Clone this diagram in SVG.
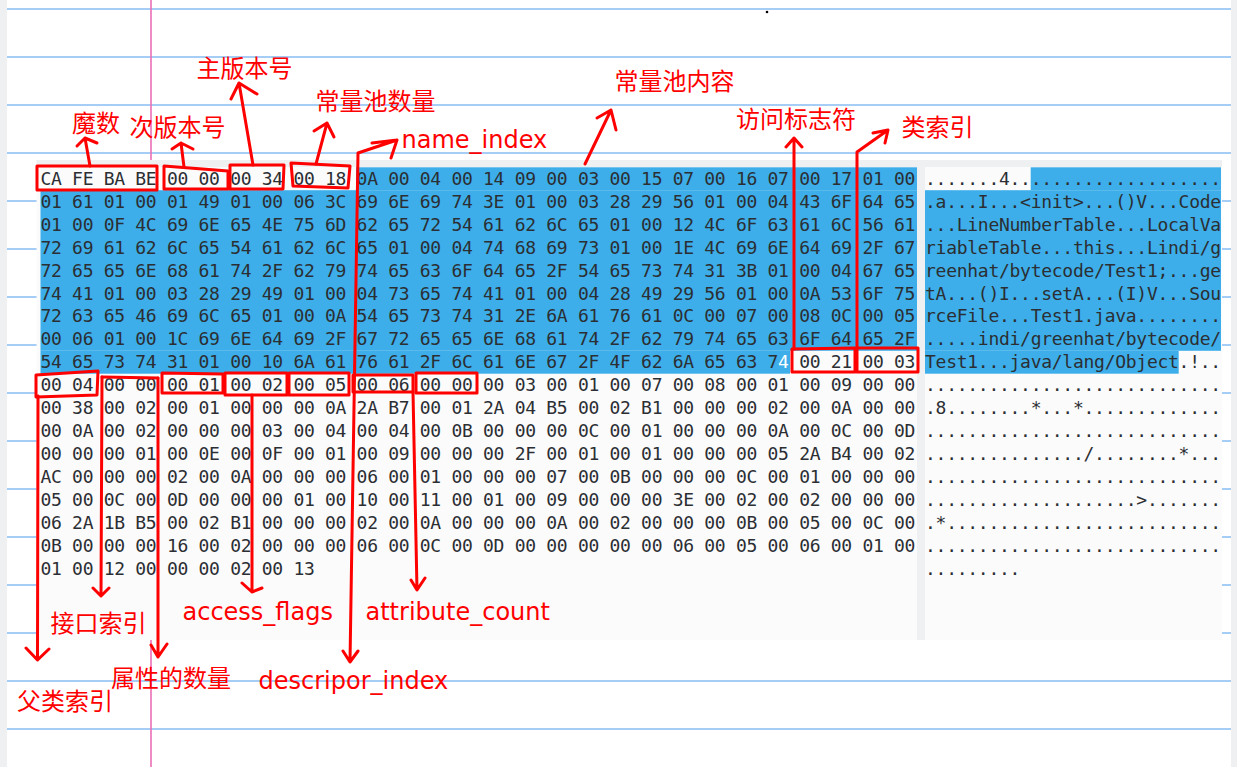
<svg xmlns="http://www.w3.org/2000/svg" width="1237" height="767" viewBox="0 0 1237 767">
<style>
.r{fill:none;stroke:#ff0000;stroke-width:3;stroke-linecap:round;stroke-linejoin:round}
.lbl{font-family:"DejaVu Sans","Noto Sans CJK SC",sans-serif;font-size:24px;fill:#ff0000}
.hex{font-family:"DejaVu Sans Mono",monospace;font-size:18px;letter-spacing:-0.3px;fill:#2b2e33;white-space:pre}
.asc{font-family:"DejaVu Sans Mono",monospace;font-size:18px;letter-spacing:-0.27px;fill:#2b2e33;white-space:pre}
.sel{fill:#3daee9}
.bl{stroke:#a5cdf5;stroke-width:2}
.pk{stroke:#ec6fb6;stroke-width:1.6}
</style>
<g id="page">
<rect x="0" y="0" width="1237" height="767" fill="#ffffff"/>
<rect x="0" y="0" width="7" height="767" fill="#eff0f1"/>
<rect x="1231" y="0" width="6" height="767" fill="#eff0f1"/>
<line class="bl" x1="7" y1="9" x2="1231" y2="9"/>
<line class="bl" x1="7" y1="57" x2="1231" y2="57"/>
<line class="bl" x1="7" y1="105" x2="1231" y2="105"/>
<line class="bl" x1="7" y1="153" x2="1231" y2="153"/>
<line class="bl" x1="7" y1="201" x2="1231" y2="201"/>
<line class="bl" x1="7" y1="249" x2="1231" y2="249"/>
<line class="bl" x1="7" y1="297" x2="1231" y2="297"/>
<line class="bl" x1="7" y1="345" x2="1231" y2="345"/>
<line class="bl" x1="7" y1="393" x2="1231" y2="393"/>
<line class="bl" x1="7" y1="441" x2="1231" y2="441"/>
<line class="bl" x1="7" y1="489" x2="1231" y2="489"/>
<line class="bl" x1="7" y1="537" x2="1231" y2="537"/>
<line class="bl" x1="7" y1="585" x2="1231" y2="585"/>
<line class="bl" x1="7" y1="633" x2="1231" y2="633"/>
<line class="bl" x1="7" y1="681" x2="1231" y2="681"/>
<line class="bl" x1="7" y1="729" x2="1231" y2="729"/>
<line class="pk" x1="151" y1="0" x2="151" y2="161"/>
<line class="pk" x1="151" y1="640" x2="151" y2="767"/>
<circle cx="767" cy="12" r="1.3" fill="#000"/>
</g>
<g id="hex-pane">
<rect x="36.5" y="160" width="1185.5" height="480" fill="#fbfbfb"/>
<rect x="36.5" y="160" width="1185.5" height="7" fill="#eff0f1"/>
<rect x="917" y="160" width="8" height="480" fill="#eff0f1"/>
<rect class="sel" x="356" y="167.3" width="561" height="22.95"/>
<rect class="sel" x="40.5" y="190.2" width="876.5" height="160.6"/>
<rect class="sel" x="40.5" y="350.8" width="749.5" height="22.9"/>
<rect class="sel" x="1030.7" y="167.3" width="190.3" height="22.95"/>
<rect class="sel" x="925" y="190.2" width="296" height="160.6"/>
<rect class="sel" x="925" y="350.8" width="253.7" height="22.9"/>
</g>
<g id="hex-bytes">
<text class="hex" x="40.5" y="184.8">CA FE BA BE 00 00 00 34 00 18 0A 00 04 00 14 09 00 03 00 15 07 00 16 07 00 17 01 00</text>
<text class="hex" x="40.5" y="207.7">01 61 01 00 01 49 01 00 06 3C 69 6E 69 74 3E 01 00 03 28 29 56 01 00 04 43 6F 64 65</text>
<text class="hex" x="40.5" y="230.7">01 00 0F 4C 69 6E 65 4E 75 6D 62 65 72 54 61 62 6C 65 01 00 12 4C 6F 63 61 6C 56 61</text>
<text class="hex" x="40.5" y="253.6">72 69 61 62 6C 65 54 61 62 6C 65 01 00 04 74 68 69 73 01 00 1E 4C 69 6E 64 69 2F 67</text>
<text class="hex" x="40.5" y="276.5">72 65 65 6E 68 61 74 2F 62 79 74 65 63 6F 64 65 2F 54 65 73 74 31 3B 01 00 04 67 65</text>
<text class="hex" x="40.5" y="299.5">74 41 01 00 03 28 29 49 01 00 04 73 65 74 41 01 00 04 28 49 29 56 01 00 0A 53 6F 75</text>
<text class="hex" x="40.5" y="322.4">72 63 65 46 69 6C 65 01 00 0A 54 65 73 74 31 2E 6A 61 76 61 0C 00 07 00 08 0C 00 05</text>
<text class="hex" x="40.5" y="345.3">00 06 01 00 1C 69 6E 64 69 2F 67 72 65 65 6E 68 61 74 2F 62 79 74 65 63 6F 64 65 2F</text>
<text class="hex" x="40.5" y="368.2">54 65 73 74 31 01 00 10 6A 61 76 61 2F 6C 61 6E 67 2F 4F 62 6A 65 63 7<tspan fill="#ffffff">4</tspan> 00 21 00 03</text>
<text class="hex" x="40.5" y="391.2">00 04 00 00 00 01 00 02 00 05 00 06 00 00 00 03 00 01 00 07 00 08 00 01 00 09 00 00</text>
<text class="hex" x="40.5" y="414.1">00 38 00 02 00 01 00 00 00 0A 2A B7 00 01 2A 04 B5 00 02 B1 00 00 00 02 00 0A 00 00</text>
<text class="hex" x="40.5" y="437">00 0A 00 02 00 00 00 03 00 04 00 04 00 0B 00 00 00 0C 00 01 00 00 00 0A 00 0C 00 0D</text>
<text class="hex" x="40.5" y="460">00 00 00 01 00 0E 00 0F 00 01 00 09 00 00 00 2F 00 01 00 01 00 00 00 05 2A B4 00 02</text>
<text class="hex" x="40.5" y="482.9">AC 00 00 00 02 00 0A 00 00 00 06 00 01 00 00 00 07 00 0B 00 00 00 0C 00 01 00 00 00</text>
<text class="hex" x="40.5" y="505.8">05 00 0C 00 0D 00 00 00 01 00 10 00 11 00 01 00 09 00 00 00 3E 00 02 00 02 00 00 00</text>
<text class="hex" x="40.5" y="528.8">06 2A 1B B5 00 02 B1 00 00 00 02 00 0A 00 00 00 0A 00 02 00 00 00 0B 00 05 00 0C 00</text>
<text class="hex" x="40.5" y="551.7">0B 00 00 00 16 00 02 00 00 00 06 00 0C 00 0D 00 00 00 00 00 06 00 05 00 06 00 01 00</text>
<text class="hex" x="40.5" y="574.6">01 00 12 00 00 00 02 00 13</text>
</g>
<g id="ascii-column">
<text class="asc" x="925" y="184.8">.......4....................</text>
<text class="asc" x="925" y="207.7">.a...I...&lt;init&gt;...()V...Code</text>
<text class="asc" x="925" y="230.7">...LineNumberTable...LocalVa</text>
<text class="asc" x="925" y="253.6">riableTable...this...Lindi/g</text>
<text class="asc" x="925" y="276.5">reenhat/bytecode/Test1;...ge</text>
<text class="asc" x="925" y="299.5">tA...()I...setA...(I)V...Sou</text>
<text class="asc" x="925" y="322.4">rceFile...Test1.java........</text>
<text class="asc" x="925" y="345.3">.....indi/greenhat/bytecode/</text>
<text class="asc" x="925" y="368.2">Test1...java/lang/Object.!..</text>
<text class="asc" x="925" y="391.2">............................</text>
<text class="asc" x="925" y="414.1">.8........*...*.............</text>
<text class="asc" x="925" y="437">............................</text>
<text class="asc" x="925" y="460">.............../........*...</text>
<text class="asc" x="925" y="482.9">............................</text>
<text class="asc" x="925" y="505.8">....................&gt;.......</text>
<text class="asc" x="925" y="528.8">.*..........................</text>
<text class="asc" x="925" y="551.7">............................</text>
<text class="asc" x="925" y="574.6">.........</text>
</g>
<g id="magic"><polygon class="r" points="37,166 157,166 157,190 37,190"/><text class="lbl" x="72" y="132">魔数</text></g>
<g id="minor-version"><polygon class="r" points="164,166 228,171 228,189 164,189"/><text class="lbl" x="129.5" y="135.5">次版本号</text></g>
<g id="major-version"><polygon class="r" points="230,165 284,165 283,189 230,189"/><text class="lbl" x="196.5" y="77">主版本号</text></g>
<g id="cp-count"><polygon class="r" points="291,163 350,166 348,188 293,186"/><text class="lbl" x="315.5" y="110">常量池数量</text></g>
<g id="name-index"><text class="lbl" x="401.5" y="148">name_index</text></g>
<g id="cp-content"><text class="lbl" x="614.5" y="90">常量池内容</text></g>
<g id="access-flag"><polygon class="r" points="792,349 855,348 855,372 792,372"/><text class="lbl" x="736" y="127.5">访问标志符</text></g>
<g id="this-class"><polygon class="r" points="857,348 918,348 918,372 857,372"/><text class="lbl" x="901.5" y="136">类索引</text></g>
<g id="super-class"><polygon class="r" points="36,375 98,371 97,395 36,397"/><text class="lbl" x="17" y="709.5">父类索引</text></g>
<g id="interfaces"><line class="r" x1="102" y1="377" x2="158" y2="378"/><text class="lbl" x="50.5" y="631.5">接口索引</text></g>
<g id="fields-count"><polygon class="r" points="162,373 223,374 223,393 162,393"/><text class="lbl" x="111" y="686.5">属性的数量</text></g>
<g id="field-access"><polygon class="r" points="225,373 287,373 287,395 225,395"/><text class="lbl" x="182.5" y="620">access_flags</text></g>
<g id="field-name"><polygon class="r" points="289,373 349,373 349,395 289,395"/></g>
<g id="field-descriptor"><polygon class="r" points="353,375 413,375 413,392 353,392"/><text class="lbl" x="258.5" y="689">descripor_index</text></g>
<g id="field-attr"><polygon class="r" points="416,373 477,373 477,393 416,393"/><text class="lbl" x="365.5" y="620">attribute_count</text></g>
<g id="connectors">
<path class="r" d="M90,166 L85,138 M77,146 L85,138 L97,143"/>
<path class="r" d="M184,167 L181,143 M172,149 L181,143 L193,149"/>
<path class="r" d="M253,165 L239,83 M231,99 L239,83 L257,94"/>
<path class="r" d="M316,164 L327,123 M314,131 L327,123 L334,137"/>
<path class="r" d="M350,662 L358,153 L397,140 M372,143 L397,140 L391,158 M343,651 L350,662 L358,651"/>
<path class="r" d="M585,164 L611,110 M597,118 L611,110 L616,130"/>
<path class="r" d="M794,349 L794,138 M786,147 L794,138 L802,147"/>
<path class="r" d="M857,349 L857,152 L888,130 M873,133 L888,130 L885,143"/>
<path class="r" d="M38,396 L37.5,660 M26,648 L37.5,660 L49,649"/>
<path class="r" d="M102,377 L101,596 M93,588 L101,596 L109,588"/>
<path class="r" d="M158,378 L158,657 M151,645 L158,657 L167,644"/>
<path class="r" d="M252,395 L252,592 M242,583 L252,592 L262,588"/>
<path class="r" d="M413,392 L417,590 M411,580 L417,590 L425,578"/>
</g>
</svg>
